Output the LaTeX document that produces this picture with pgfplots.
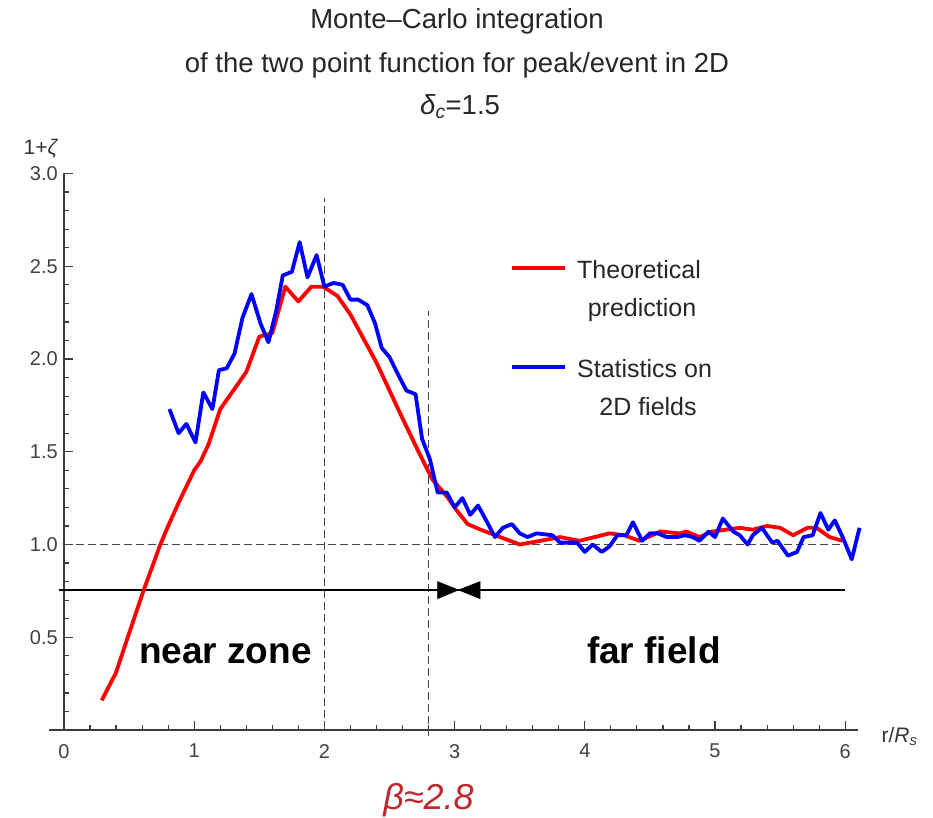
\documentclass[border=0pt]{standalone}
\usepackage{pgfplots}
\pgfplotsset{compat=1.18}
\usepackage{fontspec}
\setmainfont{Liberation Sans}
\definecolor{betared}{RGB}{192,40,45}
\definecolor{axgray}{RGB}{60,60,60}
\definecolor{dashgray}{RGB}{70,70,70}
\begin{document}
\begin{tikzpicture}
\begin{axis}[
  at={(0pt,0pt)}, anchor=origin,
  scale only axis, width=809.2pt, height=556.5pt,
  xmin=-0.115, xmax=6.1, ymin=0, ymax=3,
  axis lines=middle,
  axis line style={-, line width=1.3pt, color=axgray},
  hide obscured x ticks=false, hide obscured y ticks=false,
  clip=false,
  xtick={0,1,2,3,4,5,6}, ytick={0.5,1,1.5,2,2.5,3},
  minor xtick={0.2,0.4,0.6,0.8,1.2,1.4,1.6,1.8,2.2,2.4,2.6,2.8,3.2,3.4,3.6,3.8,4.2,4.4,4.6,4.8,5.2,5.4,5.6,5.8},
  minor ytick={0.1,0.2,0.3,0.4,0.6,0.7,0.8,0.9,1.1,1.2,1.3,1.4,1.6,1.7,1.8,1.9,2.1,2.2,2.3,2.4,2.6,2.7,2.8,2.9},
  tick align=inside,
  major tick length=9pt, minor tick length=5pt,
  every tick/.style={axgray, line width=1.2pt},
  /pgf/number format/assume math mode=true,
  ticklabel style={font=\fontsize{20}{23}\selectfont, text=black!75},
  xticklabel style={inner sep=0pt, anchor=north, yshift=-14pt},
  yticklabel style={inner sep=0pt, anchor=east, xshift=-6pt,
    /pgf/number format/.cd, fixed, fixed zerofill, precision=1},
]
% reference dashed lines
\addplot[dashgray, line width=1.1pt, dash pattern=on 8pt off 4pt] coordinates {(0,1) (6,1)};
\addplot[dashgray, line width=1.1pt, dash pattern=on 8pt off 4pt] coordinates {(2,0) (2,2.87)};
\addplot[dashgray, line width=1.1pt, dash pattern=on 8pt off 4pt] coordinates {(2.8,-0.03) (2.8,2.26)};
% black separator line and bowtie
\addplot[black, line width=2.6pt] coordinates {(-0.04,0.755) (6.0,0.755)};
\addplot[fill=black, draw=black, line width=0.5pt] coordinates {(2.87,0.800) (3.03,0.755) (2.87,0.708)} -- cycle;
\addplot[fill=black, draw=black, line width=0.5pt] coordinates {(3.195,0.800) (3.03,0.755) (3.195,0.708)} -- cycle;
% theoretical prediction
\addplot[red, line width=3.8pt, line join=round] coordinates {
(0.29,0.16) (0.40,0.31) (0.49,0.50) (0.61,0.75) (0.74,1.00) (0.80,1.10)
(0.89,1.24) (1.00,1.40) (1.05,1.45) (1.11,1.54) (1.20,1.73) (1.30,1.83) (1.40,1.93)
(1.50,2.12) (1.60,2.14) (1.70,2.39) (1.80,2.31) (1.90,2.39) (1.99,2.39)
(2.10,2.34) (2.20,2.24) (2.30,2.11) (2.40,1.98) (2.50,1.83) (2.60,1.68)
(2.73,1.49) (2.83,1.35) (2.94,1.26) (3.02,1.18) (3.10,1.11) (3.20,1.08)
(3.35,1.04) (3.50,1.00) (3.66,1.02) (3.81,1.04) (3.96,1.02) (4.19,1.06)
(4.30,1.05) (4.42,1.02) (4.58,1.07) (4.73,1.06) (4.78,1.07) (4.88,1.04)
(4.98,1.07) (5.19,1.09) (5.29,1.08) (5.40,1.10) (5.50,1.09) (5.60,1.05)
(5.71,1.09) (5.78,1.09) (5.88,1.04) (5.98,1.02)};
% statistics on 2D fields
\addplot[blue, line width=3.8pt, line join=round] coordinates {
(0.81,1.73) (0.88,1.60) (0.94,1.65) (1.01,1.55) (1.07,1.82) (1.14,1.73)
(1.19,1.94) (1.25,1.95) (1.31,2.03) (1.37,2.22) (1.44,2.35) (1.51,2.19)
(1.57,2.09) (1.63,2.26) (1.68,2.45) (1.75,2.47) (1.81,2.63) (1.87,2.44)
(1.94,2.56) (2.00,2.39) (2.07,2.41) (2.14,2.40) (2.20,2.32) (2.26,2.32)
(2.33,2.29) (2.39,2.19) (2.44,2.06) (2.50,2.01) (2.57,1.91) (2.63,1.83)
(2.70,1.81) (2.75,1.57) (2.81,1.46) (2.87,1.28) (2.94,1.28) (3.00,1.20)
(3.06,1.25) (3.12,1.16) (3.18,1.21) (3.25,1.12) (3.31,1.04) (3.37,1.09)
(3.44,1.11) (3.50,1.06) (3.56,1.04) (3.63,1.06) (3.75,1.05) (3.81,1.01)
(3.94,1.01) (4.00,0.96) (4.06,1.00) (4.13,0.96) (4.19,0.99) (4.25,1.05)
(4.32,1.05) (4.37,1.12) (4.44,1.02) (4.50,1.06) (4.56,1.06) (4.63,1.04)
(4.71,1.04) (4.77,1.05) (4.83,1.04) (4.88,1.02) (4.95,1.07) (5.00,1.04)
(5.06,1.14) (5.14,1.07) (5.19,1.05) (5.25,1.00) (5.29,1.05) (5.36,1.09)
(5.44,1.01) (5.48,1.02) (5.56,0.94) (5.63,0.96) (5.68,1.04) (5.75,1.05)
(5.81,1.17) (5.87,1.08) (5.92,1.13) (5.98,1.04) (6.05,0.92) (6.11,1.09)};
% zone labels
\node[anchor=base, font=\fontsize{37}{44}\selectfont\bfseries] at (axis cs:1.24,0.36) {near zone};
\node[anchor=base, font=\fontsize{37}{44}\selectfont\bfseries] at (axis cs:4.53,0.36) {far field};
\node[anchor=base, text=betared, font=\fontsize{36}{42}\selectfont\itshape] at (axis cs:2.8,-0.431) {β≈2.8};
\end{axis}
% title
\node[anchor=base, text=black!85, font=\fontsize{27.5}{33}\selectfont] at (393pt,701pt) {Monte–Carlo integration};
\node[anchor=base, text=black!85, font=\fontsize{27.5}{33}\selectfont] at (393pt,657pt) {of the two point function for peak/event in 2D};
\node[anchor=base, text=black!85, font=\fontsize{27.5}{33}\selectfont] at (396pt,615pt) {\textit{δ}\textsubscript{\textit{c}}=1.5};
% axis labels
\node[anchor=base, text=black!80, font=\fontsize{21}{24}\selectfont] at (-23pt,575pt) {1+\textit{ζ}};
\node[anchor=base west, text=black!80, font=\fontsize{21}{24}\selectfont] at (814pt,-12pt) {r/\textit{R}\textsubscript{\textit{s}}};
% legend
\draw[red, line width=3.8pt] (448pt,462pt) -- (501pt,462pt);
\node[anchor=base west, inner sep=0pt, text=black!85, font=\fontsize{25}{30}\selectfont] at (513pt,451pt) {Theoretical};
\node[anchor=base, inner sep=0pt, text=black!85, font=\fontsize{25}{30}\selectfont] at (578pt,413pt) {prediction};
\draw[blue, line width=3.8pt] (448pt,363pt) -- (501pt,363pt);
\node[anchor=base west, inner sep=0pt, text=black!85, font=\fontsize{25}{30}\selectfont] at (513pt,352pt) {Statistics on};
\node[anchor=base, inner sep=0pt, text=black!85, font=\fontsize{25}{30}\selectfont] at (584pt,315pt) {2D fields};
\pgfresetboundingbox
\useasboundingbox (-64pt,-87pt) rectangle (869pt,730pt);
\end{tikzpicture}
\end{document}
